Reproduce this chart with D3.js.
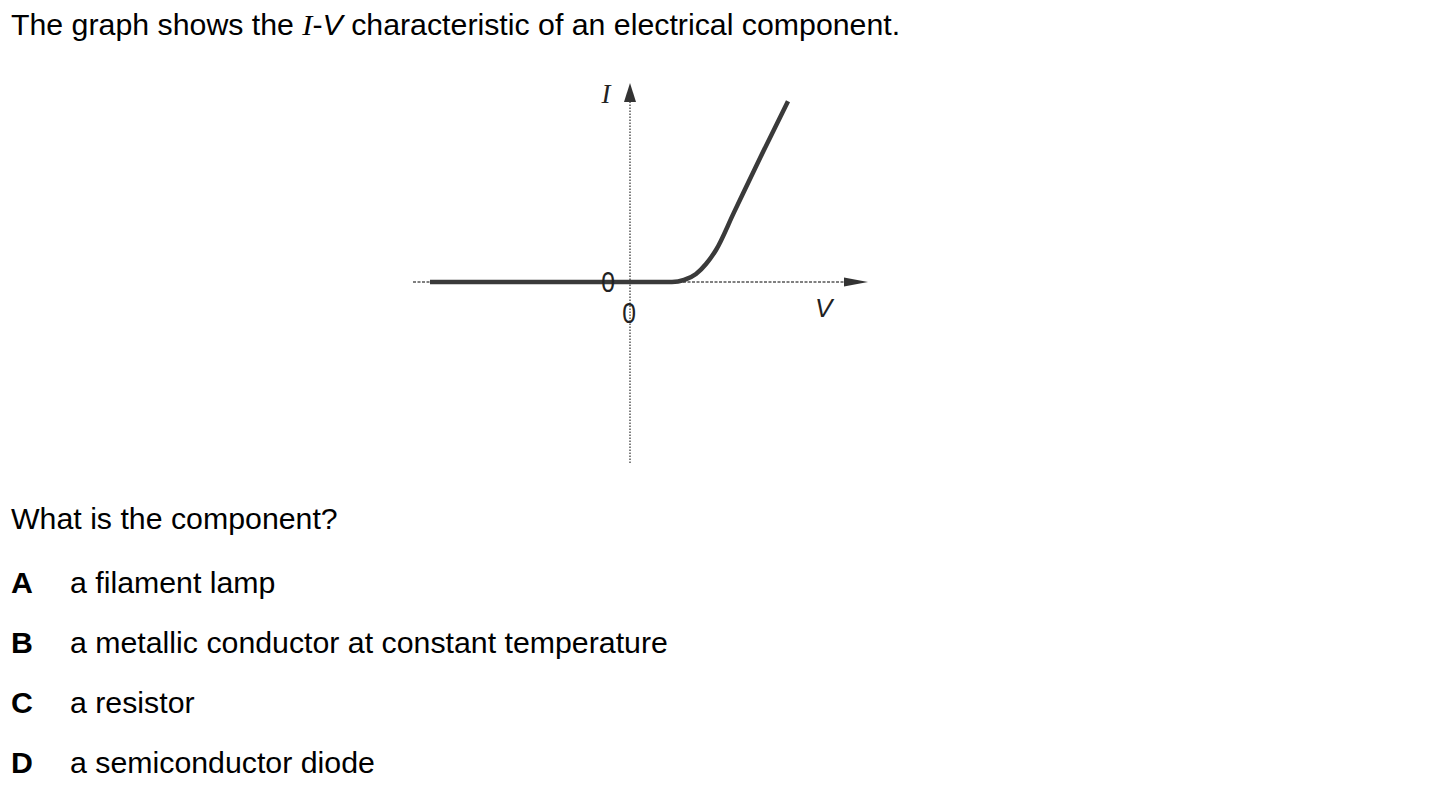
<!DOCTYPE html>
<html><head><meta charset="utf-8">
<script src="https://cdn.jsdelivr.net/npm/d3@7/dist/d3.min.js"></script>
<style>
body{margin:0;background:#fff;}
svg{display:block;}
.q{font-family:"Liberation Sans",Arial,sans-serif;font-size:30.3px;fill:#000;}
</style></head><body>
<svg id="c" width="1430" height="796"></svg>
<script>
// Data
const curveV = [-5, 1.05, 1.35, 1.65, 1.9, 2.15, 2.6, 3.3, 3.95];
const curveI = [0, 0, 0.05, 0.2, 0.45, 0.8, 1.74, 3.2, 4.52];
const xTickLabels = ["0"];
const yTickLabels = ["0"];
const axisLabels = {x: "V", y: "I"};
const optionLetters = ["A", "B", "C", "D"];
const optionTexts = ["a filament lamp", "a metallic conductor at constant temperature", "a resistor", "a semiconductor diode"];
const question = "What is the component?";

const svg = d3.select("#c");

// Title with italic I and V
const t = svg.append("text").attr("class","q").attr("x",11).attr("y",35);
t.append("tspan").text("The graph shows the ");
t.append("tspan").attr("font-family","'Liberation Serif','Times New Roman',serif").attr("font-style","italic").text("I");
t.append("tspan").text("-");
t.append("tspan").attr("font-style","italic").text("V");
t.append("tspan").text(" characteristic of an electrical component.");

// scales
const x = d3.scaleLinear().domain([-5.425, 5.95]).range([413, 868]);
const y = d3.scaleLinear().domain([-4.525, 4.975]).range([463, 83]);

const g = svg.append("g");
// x axis (dashed)
g.append("line").attr("x1",x(-5.425)).attr("x2",x(5.4)).attr("y1",y(0)).attr("y2",y(0))
  .attr("stroke","#000").attr("stroke-width",1).attr("stroke-dasharray","3,1.5");
// y axis (dotted)
g.append("line").attr("x1",x(0)).attr("x2",x(0)).attr("y1",y(-4.525)).attr("y2",y(4.55))
  .attr("stroke","#000").attr("stroke-width",1).attr("stroke-dasharray","1.5,1.5");
// arrowheads
const xa = x(5.95), ya = y(0);
g.append("path").attr("d",`M${xa},${ya} L${xa-24},${ya-4.5} L${xa-24},${ya+4.5} Z`).attr("fill","#333");
const yx = x(0), yt = y(4.975);
g.append("path").attr("d",`M${yx},${yt} L${yx-6},${yt+19} L${yx+6},${yt+19} Z`).attr("fill","#333");

// curve
const pts = curveV.map((v,i)=>[v,curveI[i]]);
const line = d3.line().x(d=>x(d[0])).y(d=>y(d[1])).curve(d3.curveMonotoneX);
g.append("path").attr("d",line(pts)).attr("fill","none").attr("stroke","#3a3a3a").attr("stroke-width",4.5).attr("stroke-linecap","butt");

// tick labels
const lab = "'Liberation Sans Narrow','Liberation Sans',Arial,sans-serif";
function zero(cx, by, txt){
  g.append("text").attr("x",0).attr("y",0).attr("text-anchor","middle")
    .attr("font-family",lab).attr("font-size",29).attr("font-weight",300).attr("fill","#222")
    .attr("transform",`translate(${cx},${by}) scale(0.85,1)`).text(txt);
}
zero(x(0)-1, y(0)+41, xTickLabels[0]);
zero(x(0)-22, y(0)+10, yTickLabels[0]);
// axis labels
g.append("text").attr("x",x(0)-24).attr("y",y(4.975)+20).attr("text-anchor","middle")
  .attr("font-family","'Liberation Serif','Times New Roman',serif").attr("font-style","italic")
  .attr("font-size",27).attr("fill","#222").text(axisLabels.y);
g.append("text").attr("x",x(4.84)).attr("y",y(0)+35).attr("text-anchor","middle")
  .attr("font-family",lab).attr("font-style","italic").attr("font-weight",300)
  .attr("font-size",26).attr("fill","#222").text(axisLabels.x);

// question
svg.append("text").attr("class","q").attr("x",11).attr("y",529).text(question);
const opts = svg.append("g").selectAll("g").data(optionLetters).join("g");
opts.append("text").attr("class","q").attr("x",11).attr("y",(d,i)=>593+i*60).attr("font-weight","bold").text(d=>d);
opts.append("text").attr("class","q").attr("x",70).attr("y",(d,i)=>593+i*60).text((d,i)=>optionTexts[i]);
</script>
</body></html>
